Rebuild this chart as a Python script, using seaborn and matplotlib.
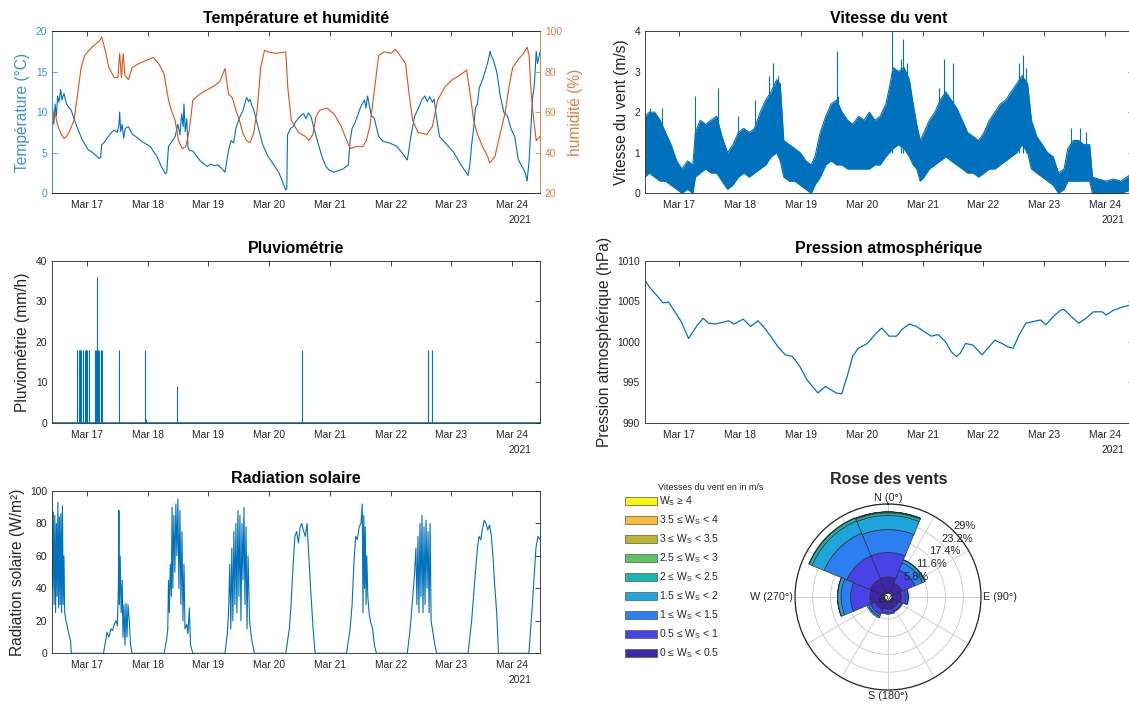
import numpy as np
import pandas as pd
import matplotlib
matplotlib.use("Agg")
import matplotlib.pyplot as plt
import matplotlib.dates as mdates
from matplotlib.patches import Patch
import seaborn as sns

# ------------------------------------------------------------------ data
# time values are hours since 2021-03-16 00:00
temp_h = [10.5, 11.0, 11.5, 12.0, 12.5, 13.0, 13.7, 14.2, 15.0, 16.0, 17.9, 20.0, 22.2, 24.5,
          26.4, 28.9, 29.5, 29.9, 31.0, 32.0, 33.5, 34.9, 36.0, 36.7, 37.0, 37.4, 38.0, 38.6,
          39.2, 40.5, 42.0, 43.3, 46.2, 49.0, 51.8, 53.5, 55.1, 55.6, 56.3, 57.5, 58.9, 60.0,
          60.8, 61.5, 62.1, 62.4, 62.9, 63.5, 64.0, 64.5, 65.9, 68.8, 71.6, 73.0, 74.4, 75.8,
          77.2, 78.6, 80.0, 81.0, 82.0, 82.9, 84.3, 85.7, 86.4, 87.1, 88.0, 88.5, 89.2, 89.9,
          91.3, 93.5, 95.5, 97.0, 99.8, 101.5, 102.6, 103.0, 103.3, 104.5, 105.5, 106.5, 107.5,
          108.6, 109.7, 110.6, 111.5, 112.5, 113.5, 114.6, 116.8, 118.5, 119.6, 121.7, 123.5,
          125.2, 127.3, 128.0, 128.8, 129.8, 130.9, 132.0, 132.8, 133.7, 134.3, 134.9, 135.6,
          136.5, 137.5, 139.3, 141.0, 143.6, 146.4, 148.5, 150.6, 151.3, 152.0, 153.5, 155.0,
          156.3, 157.5, 158.5, 159.5, 160.5, 161.2, 162.0, 163.3, 166.2, 169.0, 171.8, 174.6,
          175.3, 176.0, 176.8, 177.5, 178.3, 179.0, 180.3, 181.5, 182.5, 183.3, 183.8, 184.5,
          185.9, 187.3, 188.7, 190.2, 191.5, 193.0, 194.4, 195.5, 196.5, 197.3, 197.9, 198.7,
          199.4, 200.0, 200.8, 201.5, 202.0, 203.0]
temp_c = [10.5, 8.5, 11.0, 9.5, 12.0, 11.2, 12.8, 11.5, 12.3, 11.0, 10.2, 8.3, 6.6, 5.4,
          5.0, 4.3, 4.4, 6.0, 6.3, 6.8, 7.4, 7.8, 7.5, 8.3, 10.0, 7.6, 8.5, 6.8,
          8.0, 8.2, 7.3, 7.0, 6.3, 5.8, 4.5, 3.3, 2.4, 2.6, 5.8, 6.3, 7.0, 8.5,
          7.2, 9.8, 8.2, 11.0, 7.6, 9.2, 5.6, 5.3, 5.2, 4.0, 3.3, 3.6, 3.4, 3.5,
          3.1, 2.6, 5.3, 6.5, 6.2, 8.0, 9.3, 10.2, 11.0, 11.8, 11.3, 11.6, 10.8, 10.4,
          8.6, 6.0, 4.6, 3.9, 2.6, 1.3, 0.4, 0.6, 7.2, 8.0, 8.2, 8.8, 9.2,
          9.6, 9.8, 9.2, 9.9, 9.5, 8.3, 7.0, 4.6, 3.3, 2.9, 2.6, 2.8,
          3.0, 3.5, 6.5, 8.0, 8.6, 9.5, 10.5, 11.0, 11.5, 10.5, 12.0, 10.8,
          9.5, 9.3, 7.0, 6.4, 6.2, 5.8, 5.0, 4.1, 5.5, 7.0, 9.5, 10.5,
          11.5, 12.0, 11.3, 11.9, 11.2, 11.6, 9.6, 7.0, 6.0, 5.0, 3.5, 2.2,
          3.5, 6.0, 8.0, 10.5, 11.0, 13.0, 14.0, 15.2, 16.3, 17.5, 16.9, 16.5,
          15.0, 12.0, 10.0, 9.5, 8.0, 7.0, 4.2, 3.5, 3.0, 2.4, 1.5, 4.0,
          8.0, 11.5, 13.5, 17.5, 16.0, 17.4]

hum_h = [10.5, 11.0, 11.5, 12.2, 13.0, 14.0, 15.1, 16.0, 17.0, 18.0, 19.0, 20.4, 21.8, 23.2,
         26.0, 28.9, 29.9, 31.3, 32.7, 34.9, 36.3, 37.0, 37.7, 38.4, 39.1, 40.5, 41.9, 44.7,
         47.5, 50.3, 52.4, 54.5, 56.3, 57.4, 58.9, 60.2, 61.7, 63.1, 64.5, 65.9, 68.8, 71.6,
         74.4, 76.5, 78.6, 80.0, 81.5, 82.9, 84.3, 85.7, 87.1, 88.5, 89.9, 91.3, 92.7, 94.2,
         95.6, 98.4, 102.6, 103.4, 104.8, 107.6, 110.4, 111.8, 113.3, 114.6, 116.0, 118.9,
         121.7, 124.5, 126.7, 128.1, 130.2, 133.0, 134.4, 135.8, 137.9, 139.3, 141.5, 144.3,
         145.7, 147.1, 149.9, 151.3, 152.7, 154.8, 158.3, 160.5, 162.6, 165.5, 168.3, 171.1,
         174.0, 175.4, 176.8, 178.2, 180.3, 182.4, 183.1, 185.2, 186.6, 188.0, 189.4, 190.8,
         192.2, 194.4, 196.5, 197.9, 198.7, 199.4, 200.1, 201.5, 203.0]
hum_pct = [59, 56, 60, 55, 52, 49, 47, 48, 50, 53, 56, 69, 82, 88,
           92, 95, 97, 90.5, 82, 77, 77, 89, 77, 89, 78, 76, 82, 84,
           85.5, 87, 84, 79, 66, 61, 56, 46, 42, 43, 51, 66, 69, 71,
           73, 75, 81.5, 69, 67, 61, 56, 49.5, 46, 45, 49.5, 61, 82, 90.5,
           89.7, 89, 89.7, 72, 56, 50, 48, 46, 49, 58, 61, 62,
           59, 53, 46, 42, 43, 43, 46, 53, 74, 88, 89.7, 89,
           91, 89, 84, 69, 56, 50, 49, 53, 66, 72.5, 76, 78,
           80.7, 69, 56, 49.5, 43, 38, 35, 38, 46, 53, 61, 72.5,
           82, 86, 89, 92, 88, 72, 61, 46, 48]

wind_h = [10.4, 12.1, 14.2, 16.4, 18.5, 20.7, 22.9, 25.0, 27.2, 29.3, 30.3, 32.2, 34.3, 36.5,
          38.7, 40.8, 43.0, 45.1, 47.3, 49.4, 51.6, 53.7, 55.9, 58.1, 60.2, 62.4, 63.8, 65.2,
          67.4, 69.6, 71.7, 73.9, 76.0, 77.5, 79.6, 81.8, 83.9, 86.1, 88.2, 90.4, 92.5, 94.7,
          96.9, 99.0, 101.2, 103.3, 105.5, 106.9, 108.4, 110.5, 112.7, 114.8, 116.3, 117.7,
          119.1, 120.6, 122.7, 124.9, 127.0, 129.2, 131.3, 133.5, 135.7, 137.8, 140.0, 142.1,
          144.3, 146.4, 148.6, 150.7, 152.9, 155.0, 157.2, 159.3, 161.5, 163.0, 165.1, 167.3,
          169.4, 171.6, 173.7, 175.9, 177.4, 179.5, 181.7, 183.8, 186.0, 187.1, 189.6, 192.5,
          195.4, 198.3, 203.0]
wind_low = [0.4, 0.5, 0.4, 0.3, 0.3, 0.2, 0.1, 0.0, 0.1, 0.0, 0.4, 0.5, 0.6, 0.5,
            0.5, 0.3, 0.1, 0.2, 0.4, 0.5, 0.4, 0.5, 0.6, 0.7, 0.9, 1.0, 0.8, 0.4,
            0.3, 0.3, 0.2, 0.1, 0.0, 0.2, 0.4, 0.7, 0.8, 0.7, 0.7, 0.6, 0.6, 0.6,
            0.6, 0.6, 0.7, 0.7, 0.9, 1.0, 1.1, 1.2, 1.1, 0.9, 0.7, 0.6,
            0.3, 0.4, 0.6, 0.7, 0.8, 0.9, 0.8, 0.7, 0.6, 0.5, 0.5, 0.4,
            0.5, 0.6, 0.6, 0.7, 0.8, 0.9, 1.0, 1.2, 1.0, 0.6, 0.5, 0.4,
            0.3, 0.2, 0.0, 0.1, 0.3, 0.3, 0.3, 0.3, 0.3, 0.0, 0.0, 0.0,
            0.0, 0.0, 0.1]
wind_high = [1.9, 2.0, 2.0, 1.8, 1.5, 1.2, 0.8, 0.6, 0.8, 0.7, 1.5, 1.8, 1.7, 1.8,
             1.9, 1.4, 1.0, 1.2, 1.5, 1.6, 1.5, 1.6, 2.0, 2.3, 2.5, 2.8, 2.7, 1.3,
             1.2, 1.1, 1.0, 0.8, 0.7, 0.9, 1.5, 1.9, 2.2, 2.3, 2.0, 1.8, 1.7, 1.9,
             1.8, 2.0, 1.8, 1.9, 2.2, 2.6, 3.1, 3.0, 3.1, 2.8, 2.2, 1.7,
             1.3, 1.5, 1.8, 2.0, 2.3, 2.5, 2.3, 2.1, 1.8, 1.5, 1.4, 1.3,
             1.5, 1.8, 2.0, 2.2, 2.3, 2.5, 2.7, 2.9, 2.7, 1.8, 1.4, 1.2,
             1.0, 0.9, 0.5, 0.6, 1.1, 1.3, 1.3, 1.2, 1.2, 0.4, 0.35, 0.3,
             0.35, 0.3, 0.5]
gust_h = [12.5, 17.0, 30.0, 39.1, 47.0, 54.0, 59.5, 60.9, 63.0, 86.1, 86.8, 107.9, 111.5,
          112.4, 114.0, 126.5, 128.5, 132.1, 158.0, 159.8, 161.0, 178.5, 182.0, 184.5]
gust_ms = [2.1, 2.1, 2.4, 2.6, 1.9, 2.3, 2.9, 3.2, 2.9, 3.5, 2.4, 4.0, 3.3,
           3.8, 3.2, 2.6, 3.3, 3.2, 3.2, 3.4, 3.1, 1.6, 1.6, 1.5]

rain_h = [20.3, 20.75, 21.3, 21.6, 21.9, 22.4, 23.2, 23.7, 24.3, 25.0, 27.1, 27.5, 28.1,
          28.2, 28.5, 28.9, 29.5, 29.9, 36.6, 47.2, 47.6, 59.7, 109.1, 158.8, 160.2]
rain_mmh = [18, 18, 18, 18, 18, 18, 18, 18, 18, 18, 18, 18, 18,
            36, 18, 18, 18, 18, 18, 18, 1, 9, 18, 18, 18]

pres_h = [10.3, 12.5, 15.4, 17.5, 19.7, 21.8, 24.7, 27.6, 29.0, 31.2, 33.4, 35.5, 38.4,
          43.4, 45.6, 49.2, 52.1, 55.0, 57.1, 60.0, 62.9, 65.8, 68.6, 71.5, 74.4, 78.7,
          81.6, 83.8, 85.9, 88.1, 90.2, 92.4, 94.6, 98.2, 101.8, 103.9, 106.8, 109.7, 111.8,
          114.7, 117.6, 120.5, 123.4, 126.2, 129.1, 131.3, 133.4, 134.9, 137.0, 139.9, 143.5,
          145.7, 148.6, 151.4, 153.6, 155.8, 157.9, 160.8, 163.7, 166.6, 168.7, 171.6, 174.5,
          175.9, 178.8, 181.7, 184.6, 187.4, 191.0, 192.5, 195.4, 199.0, 203.0]
pres_hpa = [1007.6, 1006.6, 1005.6, 1004.8, 1004.9, 1003.9, 1002.5, 1000.4, 1001.1, 1002.1,
            1002.9, 1002.3, 1002.2, 1002.6, 1002.2, 1002.8, 1001.9, 1002.6, 1001.9, 1000.7,
            999.4, 998.4, 998.2, 997.0, 995.3, 993.7, 994.5, 994.1, 993.7, 993.6, 995.7,
            998.2, 999.2, 999.8, 1001.1, 1001.7, 1000.7, 1000.7, 1001.5, 1002.2, 1001.9,
            1001.3, 1000.7, 1000.9, 1000.0, 998.8, 998.2, 998.6, 999.8, 999.6, 998.4, 999.2,
            1000.2, 999.8, 999.4, 999.2, 1000.7, 1002.3, 1002.5, 1002.7, 1002.1, 1003.1,
            1003.9, 1004.0, 1003.1, 1002.3, 1002.9, 1003.7, 1003.7, 1003.3, 1003.9, 1004.3,
            1004.6]

rad_h = [10.5, 10.8, 11.1, 11.4, 11.7, 12.0, 12.3, 12.6, 12.9, 13.2, 13.5, 13.8, 14.1, 14.4,
         14.7, 15.0, 15.3, 15.8, 16.5, 17.2, 17.6, 17.9,
         30.6, 31.5, 32.0, 32.8, 33.5, 34.2, 34.9, 35.6, 36.1, 36.5, 36.7, 36.9, 37.2, 37.6,
         38.0, 38.3, 38.7, 39.1, 39.5, 39.9, 40.3, 40.8, 41.3, 41.9,
         54.6, 55.5, 56.0, 56.3, 56.6, 57.0, 57.4, 57.7, 58.0, 58.4, 58.8, 59.2, 59.6, 60.0,
         60.4, 60.8, 61.2, 61.6, 62.0, 62.4, 62.8, 63.5, 64.0, 64.5, 65.0, 65.9,
         78.6, 79.5, 80.0, 80.5, 80.9, 81.3, 81.7, 82.1, 82.5, 82.9, 83.3, 83.7, 84.1, 84.5,
         84.9, 85.3, 85.7, 86.1, 86.5, 86.9, 87.3, 87.7, 88.3, 89.0, 89.6, 90.2,
         102.6, 104.0, 104.7, 105.5, 106.2, 106.9, 107.6, 108.3, 108.9, 109.5, 110.3, 111.0,
         111.7, 112.4, 113.4, 114.2,
         126.6, 128.0, 128.8, 129.5, 130.2, 130.9, 131.6, 132.3, 132.8, 133.1, 133.4, 133.7,
         134.0, 134.3, 134.6, 135.0, 135.5, 136.0, 136.9, 137.6, 138.4,
         150.6, 151.5, 152.0, 153.0, 153.5, 154.0, 154.4, 154.8, 155.2, 155.6, 156.0, 156.4,
         156.8, 157.2, 157.6, 158.0, 158.4, 158.8, 159.2, 159.6, 160.0, 160.8, 161.5, 162.2,
         174.6, 176.0, 177.5, 178.3, 178.9, 179.6, 180.3, 181.0, 181.7, 182.4, 183.1, 183.8,
         184.5, 185.2, 185.9, 186.6,
         198.6, 200.0, 201.4, 202.2, 203.0]
rad_wm2 = [40, 87, 30, 85, 25, 80, 35, 93, 28, 84, 30, 86, 25, 91,
           30, 60, 25, 20, 15, 10, 8, 0,
           0, 8, 13, 10, 15, 14, 18, 20, 17, 40, 88, 30, 60, 25,
           45, 10, 30, 5, 31, 10, 30, 20, 5, 0,
           0, 8, 15, 45, 25, 55, 35, 90, 40, 85, 50, 92, 60, 95,
           40, 88, 30, 75, 20, 55, 15, 18, 12, 28, 5, 0,
           0, 12, 25, 55, 15, 65, 20, 75, 30, 80, 25, 88, 35, 85,
           20, 80, 45, 90, 30, 78, 15, 60, 20, 10, 5, 0,
           0, 15, 30, 55, 72, 75, 68, 78, 80, 76, 72, 80,
           60, 40, 15, 0,
           0, 15, 30, 55, 72, 70, 78, 80, 92, 25, 85, 40,
           78, 30, 60, 35, 25, 20, 15, 5, 0,
           0, 12, 20, 40, 50, 65, 30, 72, 25, 80, 35, 85,
           25, 78, 30, 82, 40, 75, 25, 80, 20, 12, 5, 0,
           0, 20, 50, 65, 72, 70, 77, 82, 80, 76, 79, 72,
           58, 40, 25, 0,
           0, 30, 65, 72, 70]

# wind rose: frequency (%) per direction sector and speed class
rose_dirs = ["N", "NE", "E", "SE", "S", "SW", "W", "NW"]
rose_deg = [0, 45, 90, 135, 180, 225, 270, 315]
rose_0_05 = [5.2, 3.6, 3.0, 2.5, 2.7, 3.2, 4.6, 5.0]
rose_05_1 = [8.0, 4.6, 1.6, 1.1, 1.2, 1.6, 6.3, 8.2]
rose_1_15 = [7.5, 2.6, 0.6, 0.3, 0.4, 0.8, 3.1, 8.0]
rose_15_2 = [4.6, 0.9, 0.2, 0.0, 0.0, 0.5, 1.1, 4.3]
rose_2_25 = [0.8, 0.2, 0.0, 0.0, 0.0, 0.0, 0.1, 1.0]
rose_25_3 = [0.3, 0.0, 0.0, 0.0, 0.0, 0.0, 0.0, 0.2]
rose_3_35 = [0.1, 0.0, 0.0, 0.0, 0.0, 0.0, 0.0, 0.0]
rose_35_4 = [0.0, 0.0, 0.0, 0.0, 0.0, 0.0, 0.0, 0.0]
rose_4_up = [0.0, 0.0, 0.0, 0.0, 0.0, 0.0, 0.0, 0.0]
rose_labels = ["0 \u2264 W$_\\mathregular{S}$ < 0.5", "0.5 \u2264 W$_\\mathregular{S}$ < 1",
               "1 \u2264 W$_\\mathregular{S}$ < 1.5", "1.5 \u2264 W$_\\mathregular{S}$ < 2",
               "2 \u2264 W$_\\mathregular{S}$ < 2.5", "2.5 \u2264 W$_\\mathregular{S}$ < 3",
               "3 \u2264 W$_\\mathregular{S}$ < 3.5", "3.5 \u2264 W$_\\mathregular{S}$ < 4",
               "W$_\\mathregular{S}$ \u2265 4"]
rose_rings = [5.8, 11.6, 17.4, 23.2, 29]
rose_compass = [(0, "N (0°)"), (90, "E (90°)"), (180, "S (180°)"), (270, "W (270°)")]

# ------------------------------------------------------------------ style
sns.set_style("white")
plt.rcParams["font.family"] = ["Liberation Sans", "DejaVu Sans"]
plt.rcParams["mathtext.fontset"] = "custom"
plt.rcParams["mathtext.rm"] = "Liberation Sans"
DARK = "#262626"
BLUE = "#0072BD"
ORANGE = "#D95319"
BLUE_TXT = "#3A93C6"
ORANGE_TXT = "#D9804A"
ROSE_COLORS = ["#3D26A8", "#4743E6", "#2B7FF0", "#1FA5DB", "#17B8AE",
               "#5CC463", "#C0B52E", "#F9BB3A", "#F8F50F"]

BASE = pd.Timestamp("2021-03-16 00:00")


def to_time(hours):
    return BASE + pd.to_timedelta(np.asarray(hours, dtype=float), unit="h")


T0 = to_time([10.4])[0]
T1 = to_time([203.0])[0]

W, H = 1129, 704
fig = plt.figure(figsize=(W / 100, H / 100), dpi=100)


def px_axes(left, top, right, bottom, **kw):
    return fig.add_axes([left / W, 1 - bottom / H, (right - left) / W, (bottom - top) / H], **kw)


def style_time_axis(ax, title, ylabel, ylim, yticks):
    ax.set_xlim(T0, T1)
    ax.xaxis.set_major_locator(mdates.DayLocator())
    ax.xaxis.set_major_formatter(mdates.DateFormatter("%b %d"))
    ax.set_ylim(*ylim)
    ax.set_yticks(yticks)
    ax.tick_params(axis="both", direction="in", top=True, right=True, length=3.5, width=0.6,
                   labelsize=7.4, colors=DARK, pad=3.5)
    ax.tick_params(axis="x", pad=5)
    for s in ax.spines.values():
        s.set_color(DARK)
        s.set_linewidth(0.6)
    ax.set_xlabel("")
    ax.set_ylabel(ylabel, fontsize=11.2, color=DARK, labelpad=4)
    ax.set_title(title, fontsize=11.5, fontweight="bold", color="black", pad=5.5)
    ax.text(0.982, -0.165, "2021", transform=ax.transAxes, ha="right", va="center",
            fontsize=7.4, color=DARK)


LX0, LX1 = 52.3, 540.0
RX0, RX1 = 645.0, 1132.7
ROWS = [(31.0, 193.3), (260.7, 423.0), (491.0, 653.3)]

# ---- Température et humidité
ax_t = px_axes(LX0, ROWS[0][0], LX1, ROWS[0][1])
ax_h = ax_t.twinx()
df_t = pd.DataFrame({"t": to_time(temp_h), "v": temp_c})
df_h = pd.DataFrame({"t": to_time(hum_h), "v": hum_pct})
sns.lineplot(data=df_t, x="t", y="v", ax=ax_t, color=BLUE, linewidth=0.8, estimator=None)
sns.lineplot(data=df_h, x="t", y="v", ax=ax_h, color=ORANGE, linewidth=0.8, estimator=None)
style_time_axis(ax_t, "Température et humidité", "Température (°C)", (0, 20), [0, 5, 10, 15, 20])
ax_t.tick_params(axis="y", right=False, colors=BLUE_TXT)
ax_t.yaxis.label.set_color(BLUE_TXT)
ax_h.set_ylim(20, 100)
ax_h.set_yticks([20, 40, 60, 80, 100])
ax_h.tick_params(axis="y", direction="in", length=3.5, width=0.6, labelsize=7.4,
                 colors=ORANGE_TXT, pad=3.5)
ax_h.set_ylabel("humidité (%)", fontsize=11.2, color=ORANGE_TXT, labelpad=4)
ax_h.set_xlabel("")
for name, s in ax_h.spines.items():
    s.set_linewidth(0.6)
    s.set_color(DARK)
ax_h.spines["right"].set_color(ORANGE_TXT)
ax_h.spines["left"].set_color(BLUE_TXT)
ax_t.spines["left"].set_color(BLUE_TXT)
ax_t.spines["right"].set_color(ORANGE_TXT)

# ---- Vitesse du vent
ax_w = px_axes(RX0, ROWS[0][0], RX1, ROWS[0][1])
tw = to_time(wind_h)
ax_w.fill_between(tw, wind_low, wind_high, color=BLUE, linewidth=0.0)
df_wl = pd.DataFrame({"t": tw, "v": wind_low})
df_wh = pd.DataFrame({"t": tw, "v": wind_high})
sns.lineplot(data=df_wl, x="t", y="v", ax=ax_w, color=BLUE, linewidth=0.8, estimator=None)
sns.lineplot(data=df_wh, x="t", y="v", ax=ax_w, color=BLUE, linewidth=0.8, estimator=None)
ax_w.vlines(to_time(gust_h), 1.0, gust_ms, color=BLUE, linewidth=0.8)
style_time_axis(ax_w, "Vitesse du vent", "Vitesse du vent (m/s)", (0, 4), [0, 1, 2, 3, 4])

# ---- Pluviométrie
ax_r = px_axes(LX0, ROWS[1][0], LX1, ROWS[1][1])
ax_r.vlines(to_time(rain_h), 0, rain_mmh, color=BLUE, linewidth=0.8)
df_r0 = pd.DataFrame({"t": to_time([10.4, 203.0]), "v": [0, 0]})
sns.lineplot(data=df_r0, x="t", y="v", ax=ax_r, color=BLUE, linewidth=1.2, estimator=None)
style_time_axis(ax_r, "Pluviométrie", "Pluviométrie (mm/h)", (0, 40), [0, 10, 20, 30, 40])

# ---- Pression atmosphérique
ax_p = px_axes(RX0, ROWS[1][0], RX1, ROWS[1][1])
df_p = pd.DataFrame({"t": to_time(pres_h), "v": pres_hpa})
sns.lineplot(data=df_p, x="t", y="v", ax=ax_p, color=BLUE, linewidth=0.9, estimator=None)
style_time_axis(ax_p, "Pression atmosphérique", "Pression atmosphérique (hPa)", (990, 1010),
                [990, 995, 1000, 1005, 1010])

# ---- Radiation solaire
ax_s = px_axes(LX0, ROWS[2][0], LX1, ROWS[2][1])
df_s = pd.DataFrame({"t": to_time(rad_h), "v": rad_wm2})
sns.lineplot(data=df_s, x="t", y="v", ax=ax_s, color=BLUE, linewidth=0.8, estimator=None)
style_time_axis(ax_s, "Radiation solaire", "Radiation solaire (W/m²)", (0, 100),
                [0, 20, 40, 60, 80, 100])

# ---- Rose des vents
CX, CY, R = 888.0, 597.0, 93.0
axr = px_axes(CX - R, CY - R, CX + R, CY + R, projection="polar")
axr.set_theta_zero_location("N")
axr.set_theta_direction(-1)
axr.set_ylim(0, 29)
axr.set_rorigin(-1.32)
axr.set_axisbelow(True)
theta = np.radians(rose_deg)
cum = np.zeros(len(rose_deg))
rose_bins = [rose_0_05, rose_05_1, rose_1_15, rose_15_2, rose_2_25, rose_25_3,
             rose_3_35, rose_35_4, rose_4_up]
for vals, col in zip(rose_bins, ROSE_COLORS):
    vals = np.asarray(vals, dtype=float)
    m = vals > 0
    if m.any():
        axr.bar(theta[m], vals[m], width=np.radians(45), bottom=cum[m], color=col,
                edgecolor="#2a2a2a", linewidth=0.45, align="center", zorder=2)
    cum = cum + vals
axr.set_rgrids(rose_rings, labels=[""] * len(rose_rings))
axr.set_thetagrids(np.arange(0, 360, 30), labels=[""] * 12)
axr.grid(color="#c8c8c8", linewidth=0.6)
axr.spines["polar"].set_color(DARK)
axr.spines["polar"].set_linewidth(0.9)
for v in rose_rings:
    axr.annotate(f"{v:g}%", xy=(np.radians(45), v), ha="left", va="bottom", fontsize=8,
                 color=DARK, annotation_clip=False, zorder=5)
compass_align = {0: ("center", "bottom", (0, 0.5)), 90: ("left", "center", (1.5, 0)),
                 180: ("center", "top", (0, -0.8)), 270: ("right", "center", (-1.5, 0))}
for deg, lab in rose_compass:
    ha, va, off = compass_align[deg]
    axr.annotate(lab, xy=(np.radians(deg), 29), xytext=off, textcoords="offset points",
                 ha=ha, va=va, fontsize=7.8, color=DARK, annotation_clip=False)
axr.text(0.49, 0.485, "0%", transform=axr.transAxes, ha="center", va="center", fontsize=8,
         color=DARK, zorder=5)
fig.text(889 / W, 1 - 479 / H, "Rose des vents", ha="center", va="center", fontsize=11.5,
         fontweight="bold")

handles = [Patch(facecolor=c, edgecolor="#555555", linewidth=0.5, label=l)
           for c, l in zip(ROSE_COLORS, rose_labels)][::-1]
fig.legend(handles=handles, loc="upper left", bbox_to_anchor=(625 / W, 1 - 494.5 / H),
           frameon=False, fontsize=7.5, handlelength=3.1, handleheight=0.85,
           handletextpad=0.12, labelspacing=0.5, borderaxespad=0, borderpad=0)
fig.text(658 / W, 1 - 487 / H, "Vitesses du vent en in m/s", ha="left", va="center",
         fontsize=6.5, color=DARK)

fig.savefig("out.png", dpi=100)
